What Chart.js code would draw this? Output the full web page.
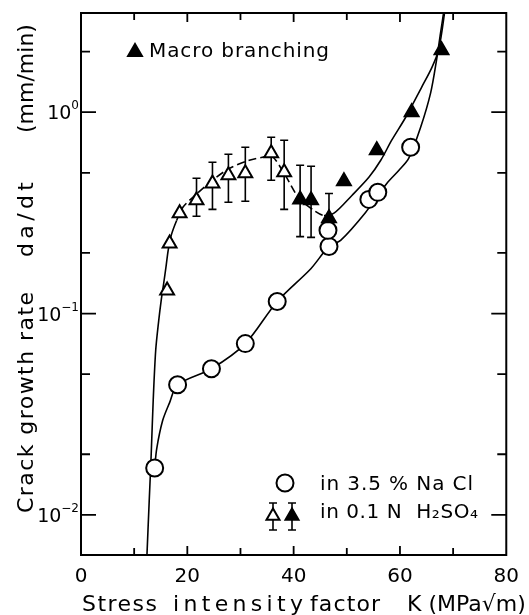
<!DOCTYPE html>
<html>
<head>
<meta charset="utf-8">
<script src="https://cdn.jsdelivr.net/npm/chart.js@4.4.1/dist/chart.umd.min.js"></script>
<style>
  html, body { margin: 0; padding: 0; background: #fff; }
  #wrap { width: 529px; height: 615px; }
</style>
</head>
<body>
<div id="wrap"><canvas id="c"></canvas></div>
<script>
// values (K in MPa*sqrt(m), da/dt in mm/min)
const kNaCl = [13.86, 18.17, 24.54, 30.91, 36.91, 46.65, 46.46, 54.15, 55.83, 62.01];
const rateNaCl = [0.0171, 0.0443, 0.0532, 0.0709, 0.1148, 0.2155, 0.259, 0.369, 0.40, 0.67];

const kOpen = [16.20, 16.67, 18.55, 21.73, 24.73, 27.73, 30.91, 35.78, 38.22];
const rateOpen = [0.130, 0.223, 0.315, 0.365, 0.443, 0.486, 0.497, 0.625, 0.503];
const openLow = [null, null, null, 0.304, 0.329, 0.357, 0.361, 0.459, 0.329];
const openHigh = [null, null, null, 0.47, 0.564, 0.618, 0.67, 0.751, 0.726];

const kFilled = [41.22, 43.28, 46.65, 49.46, 55.64, 62.20, 67.82];
const rateFilled = [0.369, 0.365, 0.297, 0.454, 0.647, 1.0, 2.03];
const filledLow = [0.241, 0.239, 0.23, null, null, null, null];
const filledHigh = [0.545, 0.539, 0.395, null, null, null, null];

// hand-drawn fit curves
const kFitH2SO4 = [12.37, 12.83, 13.21, 13.58, 14.05, 14.62, 15.08, 15.55, 16.02, 16.40, 16.96, 17.99,
  19.17, 21.04, 24.73, 27.92, 31.66, 34.10, 35.78, 38.22, 41.03, 43.84, 45.71, 47.59, 50.96, 54.15,
  56.39, 58.45, 61.08, 64.07, 65.95, 67.26, 68.38, 68.57];
const rateFitH2SO4 = [0.0060, 0.0117, 0.0201, 0.0369, 0.0655, 0.0923, 0.116, 0.141, 0.173, 0.206, 0.244, 0.290,
  0.337, 0.378, 0.459, 0.526, 0.577, 0.597, 0.611, 0.497, 0.373, 0.325, 0.307, 0.315, 0.386, 0.475,
  0.577, 0.726, 0.944, 1.33, 1.656, 2.03, 3.11, 3.6];

const kFitNaCl = [13.86, 14.24, 15.36, 16.67, 18.17, 24.54, 30.91, 36.91, 43.28, 46.65, 48.84, 53.53,
  57.52, 59.77, 61.64, 63.89, 65.76, 66.88, 67.63, 68.20, 68.50];
const rateFitNaCl = [0.0171, 0.0213, 0.0294, 0.0361, 0.0443, 0.0532, 0.0709, 0.1148, 0.1675, 0.2155, 0.231, 0.318,
  0.443, 0.514, 0.590, 0.842, 1.244, 1.815, 2.47, 3.11, 3.6];

const xLabelTicks = [0, 20, 40, 60, 80];
const xMinorTicks = [10, 30, 50, 70];
const yLabelTicks = [0.01, 0.1, 1];
const yMinorTicks = [0.02, 0.05, 0.2, 0.5, 2];
const yTickExp = { 1: '0', 0.1: '−1', 0.01: '−2' };

const FONT = '"DejaVu Sans", sans-serif';

function pts(xs, ys) {
  return xs.map((v, i) => ({ x: v, y: ys[i] }));
}

// text stretched to a given width with letter spacing
function fitText(ctx, text, x, y, w) {
  ctx.letterSpacing = '0px';
  const m = ctx.measureText(text).width;
  const ls = Math.max(0, (w - m) / Math.max(1, text.length - 1));
  ctx.letterSpacing = ls + 'px';
  ctx.fillText(text, x, y);
  ctx.letterSpacing = '0px';
}

function triangle(ctx, x, y, r, filled) {
  ctx.beginPath();
  for (let i = 0; i < 3; i++) {
    const a = i * 2 * Math.PI / 3;
    const px = x + Math.sin(a) * r, py = y - Math.cos(a) * r;
    if (i === 0) ctx.moveTo(px, py); else ctx.lineTo(px, py);
  }
  ctx.closePath();
  ctx.fillStyle = filled ? '#000' : '#fff';
  ctx.fill();
  ctx.stroke();
}

function bar(ctx, x, y1, y2) {
  ctx.beginPath();
  ctx.moveTo(x, y1); ctx.lineTo(x, y2);
  ctx.moveTo(x - 4, y1); ctx.lineTo(x + 4, y1);
  ctx.moveTo(x - 4, y2); ctx.lineTo(x + 4, y2);
  ctx.stroke();
}

const errorBars = {
  id: 'errorBars',
  beforeDatasetsDraw(chart) {
    const { ctx, scales: { x, y } } = chart;
    ctx.save();
    ctx.strokeStyle = '#000';
    ctx.lineWidth = 1.6;
    const draw = (ks, lo, hi) => ks.forEach((k, i) => {
      if (lo[i] == null) return;
      bar(ctx, x.getPixelForValue(k), y.getPixelForValue(lo[i]), y.getPixelForValue(hi[i]));
    });
    draw(kOpen, openLow, openHigh);
    draw(kFilled, filledLow, filledHigh);
    ctx.restore();
  }
};

const frame = {
  id: 'frame',
  afterDraw(chart) {
    const { ctx, chartArea: a, scales: { x, y } } = chart;
    ctx.save();
    ctx.strokeStyle = '#000';
    ctx.fillStyle = '#000';
    ctx.lineWidth = 2;
    ctx.strokeRect(a.left, a.top, a.right - a.left, a.bottom - a.top);

    // inward ticks on all four sides
    ctx.lineWidth = 1.8;
    ctx.beginPath();
    const xt = (v, len) => {
      const px = x.getPixelForValue(v);
      ctx.moveTo(px, a.bottom); ctx.lineTo(px, a.bottom - len);
      ctx.moveTo(px, a.top); ctx.lineTo(px, a.top + len);
    };
    const yt = (v, len) => {
      const py = y.getPixelForValue(v);
      ctx.moveTo(a.left, py); ctx.lineTo(a.left + len, py);
      ctx.moveTo(a.right, py); ctx.lineTo(a.right - len, py);
    };
    xLabelTicks.slice(1, -1).forEach(v => xt(v, 9));
    xMinorTicks.forEach(v => xt(v, 7));
    yLabelTicks.forEach(v => yt(v, 15));
    yMinorTicks.forEach(v => yt(v, 9));
    ctx.stroke();

    // y tick labels: 10 with raised exponent
    ctx.textBaseline = 'alphabetic';
    ctx.textAlign = 'left';
    yLabelTicks.forEach(v => {
      const py = y.getPixelForValue(v);
      const exp = yTickExp[v];
      ctx.font = '12px ' + FONT;
      const ew = ctx.measureText(exp).width;
      ctx.font = '19px ' + FONT;
      const bw = ctx.measureText('10').width;
      const x0 = 79 - ew - bw;
      ctx.fillText('10', x0, py + 7);
      ctx.font = '12px ' + FONT;
      ctx.fillText(exp, x0 + bw, py - 3);
    });

    // axis titles
    ctx.font = '22px ' + FONT;
    fitText(ctx, 'Stress', 82, 611, 75);
    fitText(ctx, 'intensity', 173, 611, 130);
    fitText(ctx, 'factor', 310, 611, 70);
    fitText(ctx, 'K (MPa√m)', 407, 611, 111);

    ctx.save();
    ctx.translate(33, 0);
    ctx.rotate(-Math.PI / 2);
    fitText(ctx, 'Crack growth rate', -513, 0, 221);
    fitText(ctx, 'da/dt', -257, 0, 75);
    fitText(ctx, '(mm/min)', -133, 0, 103);
    ctx.restore();

    // annotations and legend
    ctx.font = '20px ' + FONT;
    ctx.lineWidth = 2;
    triangle(ctx, 135, 52, 8, true);
    ctx.fillStyle = '#000';
    fitText(ctx, 'Macro branching', 149, 57, 180);

    ctx.beginPath();
    ctx.arc(285, 483, 8.5, 0, Math.PI * 2);
    ctx.fillStyle = '#fff';
    ctx.fill();
    ctx.stroke();
    ctx.fillStyle = '#000';
    fitText(ctx, 'in 3.5 % Na Cl', 320, 490, 153);

    ctx.lineWidth = 1.6;
    bar(ctx, 273, 503, 530);
    bar(ctx, 292, 503, 530);
    ctx.lineWidth = 2;
    triangle(ctx, 273, 516, 7.5, false);
    triangle(ctx, 292, 516, 7.5, true);
    ctx.fillStyle = '#000';
    fitText(ctx, 'in 0.1 N  H₂SO₄', 320, 518, 158);
    ctx.restore();
  }
};

const markerBase = {
  type: 'line',
  showLine: false,
  borderColor: '#000',
  borderWidth: 2,
  pointRadius: 8,
  pointHoverRadius: 8
};

const curveBase = {
  type: 'line',
  borderColor: '#000',
  borderWidth: 1.6,
  pointRadius: 0,
  fill: false,
  tension: 0.3,
  order: 3
};

new Chart(document.getElementById('c'), {
  type: 'line',
  data: {
    datasets: [
      Object.assign({}, markerBase, {
        label: 'Macro branching',
        data: pts(kFilled, rateFilled),
        pointStyle: 'triangle',
        backgroundColor: '#000',
        order: 0
      }),
      Object.assign({}, markerBase, {
        label: 'in 0.1 N H2SO4',
        data: pts(kOpen, rateOpen),
        pointStyle: 'triangle',
        backgroundColor: '#fff',
        order: 1
      }),
      Object.assign({}, markerBase, {
        label: 'in 3.5 % NaCl',
        data: pts(kNaCl, rateNaCl),
        pointStyle: 'circle',
        backgroundColor: '#fff',
        pointRadius: 8.5,
        order: 2
      }),
      Object.assign({}, curveBase, {
        label: 'fit H2SO4',
        data: pts(kFitH2SO4, rateFitH2SO4),
        segment: {
          borderDash: c => (c.p0.parsed.x >= 17 && c.p1.parsed.x <= 47 ? [8, 4] : undefined)
        }
      }),
      Object.assign({}, curveBase, {
        label: 'fit NaCl',
        data: pts(kFitNaCl, rateFitNaCl)
      })
    ]
  },
  options: {
    responsive: true,
    maintainAspectRatio: false,
    animation: false,
    devicePixelRatio: 1,
    layout: { padding: { top: 13, right: 21, left: 0, bottom: 0 } },
    plugins: {
      legend: { display: false },
      tooltip: { enabled: false }
    },
    scales: {
      x: {
        type: 'linear',
        min: 0,
        max: 80,
        grid: { display: false, drawTicks: false },
        border: { display: false },
        afterBuildTicks: s => { s.ticks = xLabelTicks.map(v => ({ value: v })); },
        afterFit: s => { s.height = 60; },
        ticks: {
          color: '#000',
          padding: 10,
          font: { family: FONT, size: 20 },
          maxRotation: 0
        }
      },
      y: {
        type: 'logarithmic',
        min: 0.00632,
        max: 3.11,
        grid: { display: false, drawTicks: false },
        border: { display: false },
        afterBuildTicks: s => { s.ticks = yLabelTicks.map(v => ({ value: v })); },
        afterFit: s => { s.width = 81; },
        ticks: { display: false }
      }
    }
  },
  plugins: [errorBars, frame]
});
</script>
</body>
</html>
